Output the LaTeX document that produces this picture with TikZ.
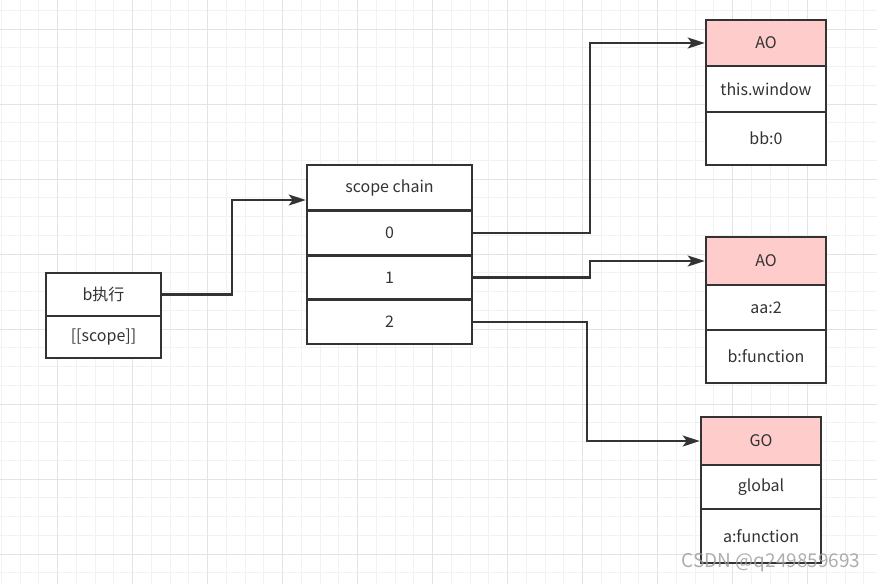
\documentclass[tikz,border=0pt]{standalone}
\usepackage{fontspec}
\setmainfont{Noto Sans CJK SC}
\usepackage{tikz}
\usetikzlibrary{arrows.meta}
\definecolor{gridminor}{HTML}{F2F2F2}
\definecolor{gridmajor}{HTML}{E3E3E3}
\definecolor{boxline}{HTML}{333333}
\definecolor{headpink}{HTML}{FFCCCC}

\begin{document}
\begin{tikzpicture}[x=1pt,y=-1pt]
	\useasboundingbox[fill=white] (0,0) rectangle (877,584);
	% background grid
	\foreach \i in {0,...,46}
		\draw[gridminor, line width=1pt] (1.25+18.75*\i,0) -- (1.25+18.75*\i,584);
	\foreach \j in {0,...,30}
		\draw[gridminor, line width=1pt] (0,10.25+18.75*\j) -- (877,10.25+18.75*\j);
	\foreach \i in {0,...,10}
		\draw[gridmajor, line width=1pt] (57.5+75*\i,0) -- (57.5+75*\i,584);
	\foreach \j in {0,...,7}
		\draw[gridmajor, line width=1pt] (0,29+75*\j) -- (877,29+75*\j);

	\begin{scope}[every node/.style = {rectangle, draw=boxline, line width=2.6pt,
			fill=white, text=boxline, inner sep=0pt, font=\fontsize{16}{19}\selectfont}]
		% b executing
		\node[minimum width=115pt, minimum height=43pt] (bexec) at (103.5,294.5) {b执行};
		\node[minimum width=115pt, minimum height=42pt] (bscope) at (103.5,337) {[[scope]]};
		% scope chain
		\node[minimum width=165pt, minimum height=45pt] (chain) at (389.5,187.5) {scope chain};
		\node[minimum width=165pt, minimum height=45pt] (c0) at (389.5,233) {0};
		\node[minimum width=165pt, minimum height=44pt] (c1) at (389.5,277.5) {1};
		\node[minimum width=165pt, minimum height=44pt] (c2) at (389.5,322) {2};
		% AO of b
		\node[minimum width=120pt, minimum height=46pt, fill=headpink] (aob) at (766,43) {AO};
		\node[minimum width=120pt, minimum height=46pt] (aobthis) at (766,89) {this.window};
		\node[minimum width=120pt, minimum height=53pt] (aobbb) at (766,138.5) {bb:0};
		% AO of a
		\node[minimum width=120pt, minimum height=48pt, fill=headpink] (aoa) at (766,261) {AO};
		\node[minimum width=120pt, minimum height=45pt] (aoaaa) at (766,307.5) {aa:2};
		\node[minimum width=120pt, minimum height=53pt] (aoab) at (766,356.5) {b:function};
		% GO
		\node[minimum width=120pt, minimum height=48pt, fill=headpink] (go) at (761,441) {GO};
		\node[minimum width=120pt, minimum height=44pt] (goglobal) at (761,487) {global};
		\node[minimum width=120pt, minimum height=54pt] (goa) at (761,536) {a:function};
	\end{scope}

	\begin{scope}[>={Stealth[length=17pt, width=11pt, inset=4pt]}, draw=boxline, line width=2.2pt]
		\draw [->] (bexec.east) -- ++(70,0) |- ([yshift=-12.5pt]chain.west);
		\draw [->] (c0.east) -- ++(117,0) |- (aob.west);
		\draw [->] (c1.east) -- ++(117,0) |- (aoa.west);
		\draw [->] (c2.east) -- ++(114,0) |- (go.west);
	\end{scope}

	% watermark
	\node[text=gray!75, opacity=0.85, font=\fontsize{19}{22}\selectfont, anchor=east] (mark) at (864,563) {CSDN @q249859693};
\end{tikzpicture}
\end{document}
